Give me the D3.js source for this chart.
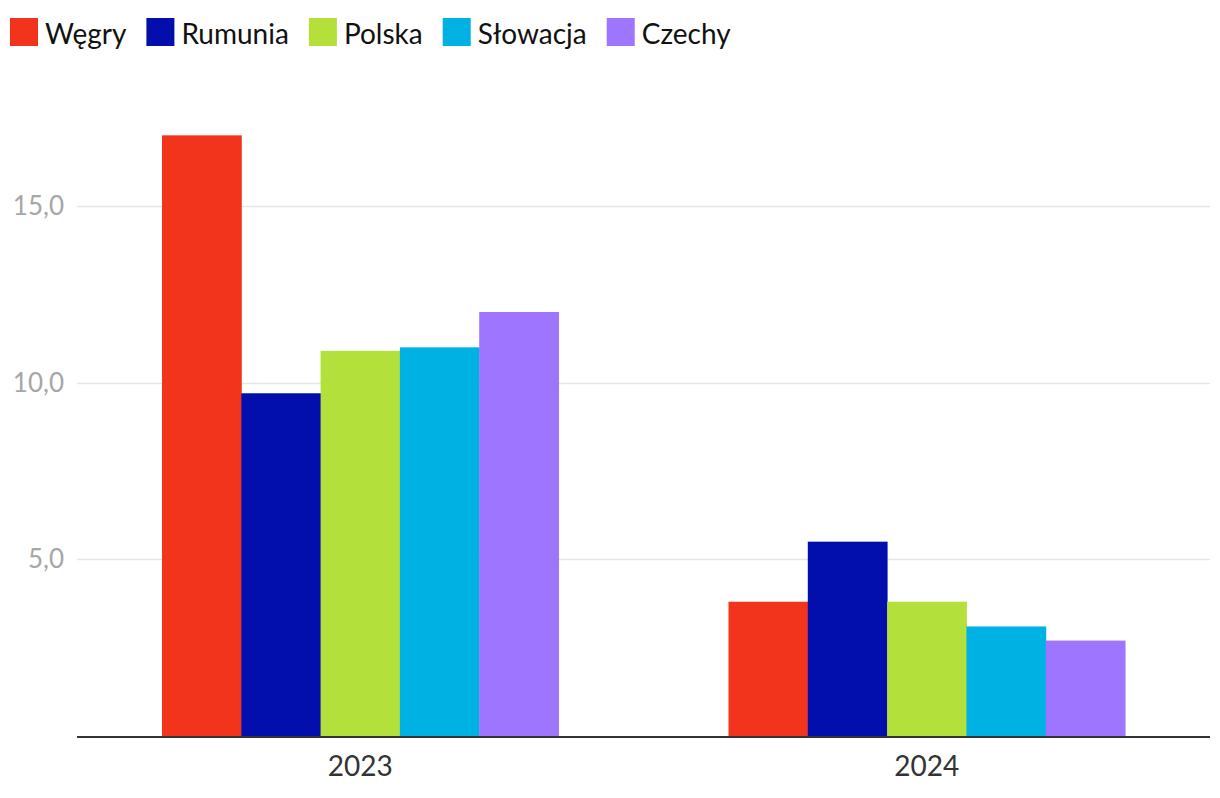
<!DOCTYPE html>
<html><head><meta charset="utf-8">
<script src="https://cdn.jsdelivr.net/npm/d3@7"></script>
<style>body{margin:0;background:#fff}svg{display:block}text{font-family:Lato,sans-serif}</style>
</head><body>
<svg id="c" width="1220" height="798"></svg>
<script>
const years = ["2023", "2024"];
const series = ["Węgry", "Rumunia", "Polska", "Słowacja", "Czechy"];
const colors = ["#f3341d", "#020fac", "#b3e03a", "#00b2e3", "#9d75fe"];
const values2023 = [17.0, 9.7, 10.9, 11.0, 12.0];
const values2024 = [3.8, 5.5, 3.8, 3.1, 2.7];
const yTicks = [5, 10, 15];

const data = [values2023, values2024];
const svg = d3.select("#c");
const left = 77, right = 1210, base = 736;
const y = d3.scaleLinear().domain([0, 15]).range([base, 206]);
const x0 = d3.scaleBand().domain(years).range([left, right]).paddingInner(0.3).paddingOuter(0.15);
const x1 = d3.scaleBand().domain(series).range([0, x0.bandwidth()]);
const fmt = v => d3.format(".1f")(v).replace(".", ",");

// grid
const g = svg.append("g");
g.selectAll("line.grid").data(yTicks).join("line")
  .attr("x1", left).attr("x2", right)
  .attr("y1", d => Math.round(y(d)) + 0.5).attr("y2", d => Math.round(y(d)) + 0.5)
  .attr("stroke", "#e6e6e6").attr("stroke-width", 1.5);
g.selectAll("text.yt").data(yTicks).join("text")
  .attr("x", 64).attr("y", d => y(d)).attr("dy", "0.35em")
  .attr("text-anchor", "end").attr("fill", "#a6a6a6").attr("font-size", 26)
  .text(fmt);

// bars
years.forEach((yr, i) => {
  svg.append("g").selectAll("rect").data(data[i]).join("rect")
    .attr("x", (d, j) => x0(yr) + x1(series[j]))
    .attr("width", x1.bandwidth() + 0.5)
    .attr("y", d => y(d))
    .attr("height", d => base - y(d))
    .attr("fill", (d, j) => colors[j]);
});

// x axis
svg.append("line").attr("x1", left).attr("x2", right).attr("y1", base + 1).attr("y2", base + 1)
  .attr("stroke", "#333").attr("stroke-width", 2);
svg.selectAll("text.xt").data(years).join("text")
  .attr("x", d => x0(d) + x0.bandwidth() / 2).attr("y", 776)
  .attr("text-anchor", "middle").attr("fill", "#333").attr("font-size", 28)
  .text(d => d);

// legend
let lx = 10;
const lg = svg.append("g");
series.forEach((s, i) => {
  lg.append("rect").attr("x", lx).attr("y", 18).attr("width", 28).attr("height", 28).attr("fill", colors[i]);
  const t = lg.append("text").attr("x", lx + 35).attr("y", 34).attr("dy", "0.35em")
    .attr("font-size", 28).attr("fill", "#111").text(s);
  const w = t.node().getComputedTextLength();
  lx = lx + 35 + w + 20;
});
</script>
</body></html>
